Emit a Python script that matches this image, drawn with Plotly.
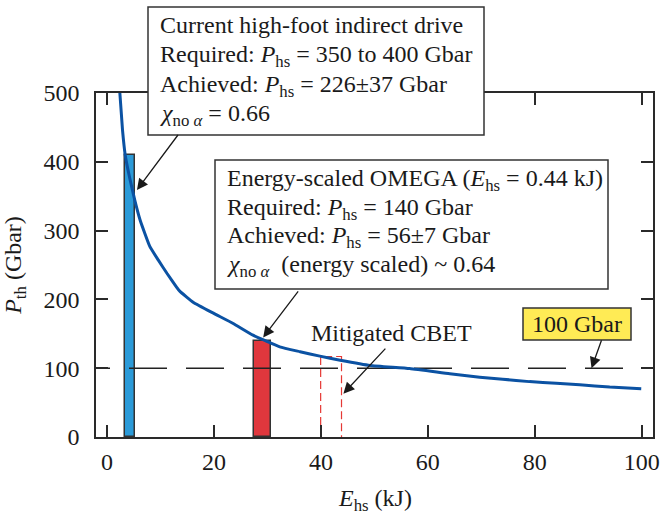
import plotly.graph_objects as go

# ---------------- data ----------------
E_curve = [2.4, 2.9, 3.4, 4.2, 5.2, 6.2, 8.0, 9.6, 11.2, 13.0, 13.6, 16.1, 19.9, 23.6, 27.3,
           32.3, 36.1, 39.8, 43.6, 49.2, 56.6, 64.1, 69.7, 74.0, 79.0, 84.0, 88.4, 94.0, 99.9]
P_curve = [500, 446, 410, 378, 344, 315, 277, 257, 238, 218, 212, 196, 180, 165, 148,
           131, 124, 117.5, 111.6, 104, 99.5, 92, 87, 84, 80.5, 78, 76, 72.5, 70]

bar_names = ["Current high-foot indirect drive", "Energy-scaled OMEGA"]
bar_centers = [4.3, 29.05]
bar_widths = [1.8, 3.1]
bar_heights = [410, 140]
bar_colors = ["#2B9AD8", "#E0373D"]

cbet_center = 41.9
cbet_width = 3.9
cbet_height = 117

threshold = 100

xticks = [0, 20, 40, 60, 80, 100]
yticks = [0, 100, 200, 300, 400, 500]

x_title = "<i>E</i><sub>hs</sub> (kJ)"
y_title = "<i>P</i><sub>th</sub> (Gbar)"

FONT = "Liberation Serif, Times New Roman, serif"
FS = 24
INK = "#2a2a2a"

# plot-area pixel geometry (for layout helpers)
W, H = 660, 514
PL, PR, PT, PB = 96, 653, 93, 437
XR = [-2.06, 102.1]


def pxx(p):
    return (p - PL) / (PR - PL)


def pxy(p):
    return (PB - p) / (PB - PT)


def datax(p):
    return XR[0] + (p - PL) / (PR - PL) * (XR[1] - XR[0])


fig = go.Figure()

# bars
for name, c, w, h, col in zip(bar_names, bar_centers, bar_widths, bar_heights, bar_colors):
    fig.add_trace(go.Bar(x=[c], y=[h], width=[w], name=name,
                         marker=dict(color=col, line=dict(color="#333333", width=1.5)),
                         showlegend=False))

# mitigated CBET dashed outline bar
cx0, cx1 = cbet_center - cbet_width / 2, cbet_center + cbet_width / 2
fig.add_trace(go.Scatter(x=[cx0, cx0, cx1, cx1], y=[0, cbet_height, cbet_height, 0],
                         mode="lines", line=dict(color="#E53935", width=1.2, dash="8px,4px"),
                         showlegend=False, hoverinfo="skip"))

# 100 Gbar dashed line (started left of the frame so the dash phase matches)
fig.add_trace(go.Scatter(x=[datax(72), XR[1] + 2], y=[threshold, threshold], mode="lines",
                         line=dict(color="#222222", width=1.5, dash="38px,19px"),
                         showlegend=False, hoverinfo="skip"))

# threshold curve
fig.add_trace(go.Scatter(x=E_curve, y=P_curve, mode="lines",
                         line=dict(color="#0B52A3", width=3, shape="spline", smoothing=0.4),
                         showlegend=False))

shapes = []
annotations = []


def add_box(x0, y0, x1, y1, lines, text_x, base0, spacing, fill="white"):
    shapes.append(dict(type="rect", xref="paper", yref="paper",
                       x0=pxx(x0), x1=pxx(x1), y0=pxy(y1), y1=pxy(y0),
                       line=dict(color="#333333", width=1.5), fillcolor=fill, layer="above"))
    for i, t in enumerate(lines):
        base = base0 + i * spacing
        top = base - 0.89 * FS
        annotations.append(dict(text=t, xref="paper", yref="paper", x=pxx(text_x), y=pxy(top),
                                xanchor="left", yanchor="top", showarrow=False,
                                borderpad=0, borderwidth=0,
                                font=dict(family=FONT, size=FS, color="#1a1a1a")))


def add_arrow(xh, yh, ax, ay):
    annotations.append(dict(text=" ", x=xh, y=yh, xref="x", yref="y", ax=ax, ay=ay,
                            showarrow=True, arrowhead=2, arrowsize=1.7, arrowwidth=1.3,
                            arrowcolor="#1a1a1a", borderpad=0, borderwidth=0,
                            font=dict(size=1)))


add_box(148, 7, 484, 135,
        ["Current high-foot indirect drive",
         "Required: <i>P</i><sub>hs</sub> = 350 to 400 Gbar",
         "Achieved: <i>P</i><sub>hs</sub> = 226±37 Gbar",
         "<i>χ</i><sub>no <i>α</i></sub> = 0.66"],
        160, 33.3, 29.4)

add_box(215, 160, 608, 289,
        ["Energy-scaled OMEGA (<i>E</i><sub>hs</sub> = 0.44 kJ)",
         "Required: <i>P</i><sub>hs</sub> = 140 Gbar",
         "Achieved: <i>P</i><sub>hs</sub> = 56±7 Gbar",
         "<i>χ</i><sub>no <i>α</i></sub>  (energy scaled) ~ 0.64"],
        227, 186.7, 28.4)

add_box(523, 308, 631, 340, ["100 Gbar"], 532, 332, 0, fill="#FFEB55")

# Mitigated CBET label (no box)
annotations.append(dict(text="Mitigated CBET", xref="paper", yref="paper",
                        x=pxx(311), y=pxy(341.5 - 0.89 * FS), xanchor="left", yanchor="top",
                        showarrow=False, borderpad=0, borderwidth=0,
                        font=dict(family=FONT, size=FS, color="#1a1a1a")))

# x-axis title (annotation so it can sit close to the bottom edge)
annotations.append(dict(text=x_title, xref="paper", yref="paper",
                        x=0.5, y=pxy(506.5 - 0.89 * FS), xanchor="center", yanchor="top",
                        showarrow=False, borderpad=0, borderwidth=0,
                        font=dict(family=FONT, size=FS, color="#1a1a1a")))

# arrows (head in data coords, tail offset in px)
add_arrow(5.6, 359, 41, -55)
add_arrow(29.2, 144.7, 35, -46)
add_arrow(44.2, 63, 42, -45)
add_arrow(90.6, 100, 10, -28)

axis_common = dict(showgrid=False, zeroline=False, showline=True, linecolor=INK, linewidth=1.6,
                   mirror="ticks", ticks="inside", ticklen=12, tickwidth=1.5, tickcolor=INK,
                   automargin=False,
                   tickfont=dict(family=FONT, size=FS, color="#1a1a1a"))

fig.update_layout(
    width=W, height=H,
    margin=dict(l=PL, r=W - PR, t=PT, b=H - PB, pad=0, autoexpand=False),
    paper_bgcolor="white", plot_bgcolor="white",
    showlegend=False, bargap=0,
    xaxis=dict(range=XR, tickvals=xticks, ticklabelstandoff=2, **axis_common),
    yaxis=dict(range=[0, 500], tickvals=yticks, ticklabelstandoff=10,
               title=dict(text=y_title, standoff=18,
                          font=dict(family=FONT, size=FS, color="#1a1a1a")),
               **axis_common),
    shapes=shapes,
    annotations=annotations,
)

fig.write_html("out.html")
